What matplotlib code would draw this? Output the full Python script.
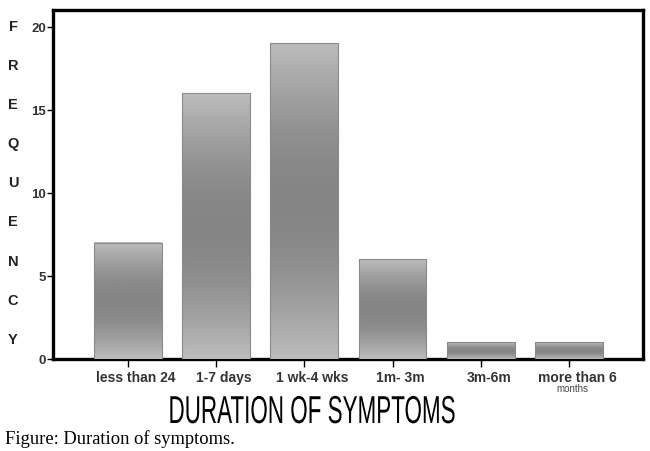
import numpy as np
import matplotlib
matplotlib.use("Agg")
import matplotlib.pyplot as plt
import matplotlib.transforms as mtransforms
from matplotlib.patheffects import AbstractPathEffect

categories = ["less than 24", "1-7 days", "1 wk-4 wks", "1m- 3m", "3m-6m", "more than 6"]
counts = [7, 16, 19, 6, 1, 1]
yticks = [0, 5, 10, 15, 20]
ylabel_letters = list("FREQUENCY")


class Squeeze(AbstractPathEffect):
    # narrows text horizontally about a centre x (display pixels)
    def __init__(self, sx, cx):
        super().__init__()
        self.sx = sx
        self.cx = cx

    def draw_path(self, renderer, gc, tpath, affine, rgbFace=None):
        a = affine + mtransforms.Affine2D().translate(-self.cx, 0).scale(self.sx, 1).translate(self.cx, 0)
        renderer.draw_path(gc, tpath, a, rgbFace)


fig = plt.figure(figsize=(6.5, 4.52), dpi=100)
ax = fig.add_axes([53/650, 1-360/452, 590/650, 349/452])

x = np.arange(len(categories))
w = 0.77
bars = ax.bar(x, counts, width=w, facecolor="none", edgecolor="#8a8a8a", linewidth=0.8, zorder=4)

# vertical gradient: light at top/bottom, dark in the middle
t = np.linspace(0, 1, 200)
grad = 0.74 - 0.22 * np.sin(np.pi * t)
for b in bars:
    x0, h = b.get_x(), b.get_height()
    ax.imshow(grad[:, None], cmap="gray", vmin=0, vmax=1, aspect="auto",
              extent=[x0, x0 + w, 0, h], origin="lower", zorder=3)

ax.set_xlim(-0.85, 5.84)
ax.set_ylim(0, 21)
for s in ax.spines.values():
    s.set_linewidth(2.4)
    s.set_color("black")

ax.set_yticks(yticks)
ax.set_yticklabels([str(v) for v in yticks], fontsize=9.5, fontweight="bold",
                   color="#333333", family="Liberation Sans")
ax.tick_params(axis="y", length=4, width=1, pad=1)
ax.set_xticks(x)
ax.set_xticklabels(categories, fontsize=10, fontweight="bold",
                   color="#333333", family="Liberation Sans")
ax.tick_params(axis="x", length=6, width=1, pad=2)
shift = mtransforms.ScaledTranslation(8/100, 0, fig.dpi_scale_trans)
for lab in ax.get_xticklabels():
    lab.set_transform(lab.get_transform() + shift)

ax.text(5, -1.75, "months", ha="center", va="center", fontsize=7,
        color="#444444", family="Liberation Sans",
        transform=ax.transData + mtransforms.ScaledTranslation(3/100, 0, fig.dpi_scale_trans))

for i, ch in enumerate(ylabel_letters):
    fig.text(13/650, 1 - (27 + i*39.1)/452, ch, ha="center", va="center",
             fontsize=10.5, fontweight="bold", color="#222222", family="Liberation Sans")

title = fig.text(312/650, 1 - 414/452, "DURATION OF SYMPTOMS", ha="center", va="center",
                 fontsize=28, family="Liberation Sans", color="black")
fig.canvas.draw()
tw = title.get_window_extent().width
title.set_path_effects([Squeeze(287 / tw, 312)])

fig.text(5/650, 1 - 439/452, "Figure: Duration of symptoms.", ha="left", va="center",
         fontsize=13.3, family="Liberation Serif", color="black")

fig.savefig("out.png", dpi=100)
